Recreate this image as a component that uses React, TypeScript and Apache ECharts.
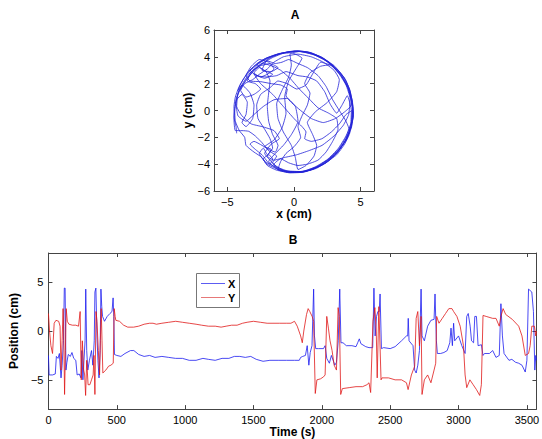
import { useEffect, useRef } from "react";
import * as echarts from "echarts";

// Panel A: 2-D trajectory (x, y) in cm
const trajectoryA: [number, number][] = [
  [-4.3, -1.7], [-4.35, -1.2], [-4.5, -0.5], [-4.5, 0.3], [-4.4, 1.0], [-4.15, 1.7], [-3.75, 2.4], [-3.2, 3.05],
  [-2.5, 3.6], [-1.7, 4.0], [-0.8, 4.3], [0.2, 4.42], [1.2, 4.3], [2.1, 3.9], [2.9, 3.3], [3.55, 2.55],
  [4.05, 1.65], [4.3, 0.7], [4.4, -0.3], [4.25, -1.3], [3.85, -2.3], [3.2, -3.2], [2.4, -3.9], [1.5, -4.35],
  [0.5, -4.6], [-0.5, -4.55], [-1.4, -4.3], [-2.1, -3.95],
  [-2.3, -3.6], [-1.9, -3.3], [-1.6, -3.6], [-1.8, -4.0], [-2.4, -3.3], [-2.9, -2.9], [-3.3, -2.5], [-3.0, -2.3],
  [-2.4, -2.6], [-1.9, -2.9], [-1.4, -3.1], [-1.2, -2.6],
  [-1.6, -1.8], [-1.9, -0.8], [-2.0, 0.3], [-1.9, 1.3], [-1.8, 2.2], [-2.1, 2.9], [-2.6, 3.2], [-3.0, 2.8],
  [-2.5, 2.5], [-2.0, 2.7], [-1.5, 3.1], [-1.9, 3.6], [-2.6, 3.8], [-3.2, 3.3], [-3.6, 2.6],
  [-3.3, 2.2], [-2.5, 2.15], [-1.7, 2.0], [-1.0, 1.9], [-0.5, 1.6], [-0.6, 1.1], [-0.2, 0.6], [0.5, 0.0],
  [1.3, -0.6], [2.2, -0.9], [3.1, -0.6], [3.8, -0.1], [4.3, 0.4], [4.2, 1.5], [3.8, 2.4], [3.2, 3.1],
  [2.4, 3.7], [1.5, 4.15], [0.5, 4.4], [-0.5, 4.35], [-1.4, 4.15], [-2.2, 3.85], [-2.8, 3.45], [-2.3, 3.0],
  [-1.6, 2.7], [-2.2, 2.4], [-3.0, 2.7],
  [-2.5, 2.0], [-1.6, 1.2], [-0.8, 0.3], [0.0, -0.6], [0.6, -1.2], [0.9, -1.6], [0.8, -2.1], [1.3, -2.3],
  [2.1, -2.1], [2.8, -1.6], [3.4, -1.0], [3.9, -0.3], [4.35, 0.0], [4.3, -1.1], [4.0, -2.0], [3.4, -2.9],
  [2.7, -3.6], [1.8, -4.2], [0.8, -4.55], [-0.3, -4.6], [-1.2, -4.4], [-1.6, -3.9], [-1.3, -3.4], [-1.9, -3.0],
  [-2.4, -2.4], [-2.9, -1.9], [-3.4, -1.55], [-3.9, -1.5], [-4.4, -1.5],
  [-4.5, -0.7], [-4.45, 0.0], [-4.3, 0.8], [-3.9, 1.2], [-3.5, 0.6], [-3.6, -0.3], [-3.9, -0.9], [-3.6, -1.2],
  [-3.1, -0.6], [-3.0, 0.4], [-3.3, 1.3], [-3.9, 1.9], [-4.2, 1.5], [-4.0, 2.0], [-3.5, 2.8], [-2.9, 3.4],
  [-2.1, 3.9], [-1.1, 4.25], [0.0, 4.4], [1.0, 4.35], [2.0, 4.0], [2.8, 3.45], [3.5, 2.7], [4.0, 1.8],
  [4.3, 0.8], [4.45, -0.2], [4.3, -1.2], [3.95, -2.1], [3.35, -3.0], [2.6, -3.75], [1.7, -4.3], [0.7, -4.6],
  [-0.3, -4.65], [-1.2, -4.4],
  [-1.0, -3.8], [-0.6, -3.2], [0.0, -2.7], [0.5, -2.0], [0.3, -1.2], [0.6, -0.4], [1.0, 0.4], [1.2, 1.3],
  [0.8, 2.0], [1.2, 2.8], [2.0, 3.3], [2.7, 3.4], [3.4, 2.7], [3.9, 1.9], [4.2, 0.9], [4.1, -0.3],
  [3.7, -1.1], [3.0, -1.9], [2.1, -2.6], [1.1, -3.0], [0.2, -3.3], [-0.7, -3.5], [-1.5, -3.7], [-2.0, -3.4],
  [-1.7, -2.9], [-2.2, -2.7],
  [-1.5, -2.2], [-0.9, -1.3], [-0.6, -0.2], [-0.7, 1.0], [-0.4, 2.2], [0.2, 3.2], [0.6, 3.9], [-0.2, 4.3],
  [-1.2, 4.2], [-2.0, 3.9], [-2.7, 3.5], [-3.3, 3.0], [-2.8, 2.6], [-2.1, 2.5], [-1.3, 2.6], [-0.6, 2.9],
  [0.3, 2.6], [1.0, 2.5], [1.7, 2.2], [2.3, 1.4], [2.7, 0.5], [3.2, -0.2], [3.6, 0.4], [4.0, 1.1],
  [4.3, 0.0], [4.25, -1.0], [3.9, -1.9], [3.3, -2.85], [2.5, -3.65], [1.6, -4.2], [0.6, -4.55], [-0.5, -4.5],
  [-1.3, -4.2], [-1.8, -3.7], [-2.2, -3.2], [-1.7, -2.5], [-1.1, -2.1], [-1.5, -1.5], [-2.4, -1.2], [-3.2, -1.0],
  [-3.9, -0.4], [-4.3, 0.3], [-4.2, 1.3], [-3.8, 2.1], [-3.3, 2.8], [-2.6, 3.3], [-1.8, 3.5], [-1.2, 3.2],
  [-1.7, 2.9], [-2.4, 3.0],
  [-2.0, 3.8], [-1.0, 4.25], [0.1, 4.45], [1.1, 4.35], [2.1, 3.95], [3.0, 3.35], [3.65, 2.6], [4.1, 1.7],
  [4.38, 0.7], [4.45, -0.4], [4.2, -1.4], [3.75, -2.4], [3.1, -3.3], [2.2, -4.0], [1.2, -4.45], [0.2, -4.6],
  [-0.8, -4.45], [-1.5, -4.0], [-1.0, -3.6], [-0.4, -3.9], [0.3, -4.1], [1.0, -4.0],
  [1.8, -3.7], [2.4, -3.1], [2.9, -2.3], [3.3, -1.4], [3.2, -0.6], [2.6, -0.2], [1.8, 0.2], [1.1, 0.9],
  [0.4, 1.6], [-0.3, 2.4], [-1.0, 3.0], [-1.6, 3.3], [-2.3, 3.5], [-2.9, 3.1], [-3.4, 2.5], [-3.9, 1.8],
  [-4.3, 1.0], [-4.45, 0.1], [-4.4, -0.8], [-4.1, -1.5], [-3.7, -2.0], [-3.6, -2.6], [-3.0, -3.1], [-2.4, -3.5],
  [-2.0, -4.1], [-1.3, -4.45], [-0.3, -4.62], [0.8, -4.5], [1.8, -4.15], [2.7, -3.55], [3.4, -2.8], [3.95, -1.9],
  [4.3, -0.9], [4.42, 0.2], [4.25, 1.3], [3.85, 2.3], [3.25, 3.05], [2.45, 3.7], [1.5, 4.15], [0.4, 4.4],
  [-0.3, 4.2], [-0.2, 3.4], [-0.4, 2.5], [-0.9, 1.5], [-1.3, 0.5], [-1.2, -0.6], [-0.8, -1.6], [-0.2, -2.6],
  [0.1, -3.5], [0.3, -4.4],
  [0.9, -4.1], [1.5, -3.4], [1.7, -2.6], [1.4, -1.8], [1.0, -0.9], [1.6, -0.1], [2.5, 0.6], [3.2, 1.4],
  [3.4, 2.3], [3.0, 3.0], [2.2, 3.6], [1.3, 4.0], [0.3, 4.2], [-0.8, 4.0], [-1.5, 3.6], [-2.0, 3.1],
  [-2.6, 2.7], [-3.1, 2.3], [-3.7, 2.0], [-4.0, 1.5], [-3.6, 1.0], [-3.0, 1.2], [-2.5, 1.6], [-2.9, 2.0],
  [-3.5, 2.2], [-3.2, 2.9], [-2.6, 3.4], [-2.0, 3.7], [-1.4, 3.5], [-0.9, 3.6], [-0.4, 3.8], [0.3, 3.5],
  [1.0, 3.2], [1.8, 2.6], [2.4, 1.8], [2.9, 0.8], [3.4, 0.0], [3.9, -0.8], [4.2, -1.6], [3.8, -2.5],
  [3.2, -3.3], [2.3, -3.95], [1.3, -4.4], [0.3, -4.6], [-0.7, -4.5], [-1.5, -4.15], [-2.2, -3.8], [-2.6, -3.2],
  [-2.3, -2.8], [-2.0, -3.3], [-1.6, -2.8], [-1.8, -2.1], [-2.2, -1.4], [-2.7, -0.6], [-2.8, 0.4], [-2.5, 1.2],
  [-1.8, 1.7], [-1.2, 2.2], [-0.5, 2.0], [0.2, 1.6], [0.9, 1.9], [1.5, 2.9], [2.0, 3.6], [2.8, 3.35],
  [3.55, 2.6], [4.05, 1.7], [4.35, 0.7], [4.45, -0.3], [4.3, -1.3], [3.9, -2.2], [3.3, -3.0], [2.5, -3.7],
  [1.6, -4.25], [0.6, -4.6], [-0.4, -4.6], [-1.3, -4.35], [-1.9, -3.8], [-1.4, -3.2], [-0.8, -2.6], [-0.2, -1.8],
  [0.3, -0.8], [0.1, 0.3], [-0.5, 0.9], [-1.5, 0.8], [-2.3, 0.3], [-3.0, -0.3], [-3.6, -0.8], [-4.2, -0.4],
  [-4.35, 0.6], [-4.1, 1.5], [-3.6, 2.3], [-3.0, 3.0], [-2.3, 3.55], [-1.6, 3.95], [-0.7, 4.3], [0.3, 4.45],
  [1.3, 4.3], [2.2, 3.9], [3.0, 3.3],
];

// Panel B: position vs time, [time (s), position (cm)]
const xPosition: [number, number][] = [
  [0, -2.5], [5, -4.5], [30, -4.5], [50, -4.4], [58, -2.6], [70, -2.8], [80, -2.3], [92, -4.8], [100, -3.5],
  [110, -1.0], [116, 4.4], [122, 4.4], [128, -4.0], [135, -3.2], [145, -2.4], [160, -2.6], [172, -2.2],
  [185, -2.8], [200, -3.0], [210, -4.5], [225, -4.4], [238, -4.8], [245, -2.0], [252, -5.0], [260, -3.0],
  [268, -1.0], [273, 4.3], [280, -2.0], [288, -4.0], [300, -3.0], [315, -2.0], [325, -3.5], [335, -1.0],
  [340, 4.0], [347, 4.4], [355, -0.5], [362, -3.0], [370, -4.8], [378, -2.0], [384, 4.3], [390, 2.5],
  [396, 1.5], [410, 1.0], [430, 1.5], [450, 1.8], [465, 2.0], [473, 3.4], [478, 1.5], [483, -2.4],
  [500, -2.5], [530, -2.6], [560, -2.3], [600, -2.0], [625, -2.0], [660, -2.4], [700, -2.6], [740, -2.5],
  [780, -2.7], [830, -2.6], [880, -2.7], [930, -2.8], [980, -2.8], [1030, -3.0], [1080, -3.0], [1130, -2.8],
  [1170, -2.9], [1220, -3.0], [1270, -2.8], [1320, -2.8], [1360, -2.6], [1400, -2.6], [1440, -2.7],
  [1480, -2.6], [1520, -2.9], [1570, -3.1], [1620, -3.0], [1680, -3.0], [1740, -3.0], [1800, -3.0],
  [1835, -3.0], [1845, -2.7], [1860, -2.6], [1880, -2.5], [1893, -1.5], [1905, -3.5], [1915, -2.2],
  [1928, -1.5], [1940, 4.3], [1946, -0.5], [1955, -1.8], [1976, -1.8], [2012, -1.8], [2024, -1.5],
  [2036, -2.8], [2055, -3.3], [2070, -2.5], [2095, -3.5], [2107, -3.2], [2120, -1.0], [2131, 4.3],
  [2140, -1.2], [2155, -1.2], [2179, -1.5], [2220, -1.5], [2250, -1.6], [2262, -1.2], [2274, -0.8],
  [2286, -1.3], [2321, -1.6], [2345, -1.7], [2372, -1.7], [2381, 4.4], [2390, -0.5], [2400, 1.5],
  [2410, 2.0], [2420, 2.0], [2426, 3.8], [2436, -1.8], [2452, -1.7], [2500, -1.8], [2536, -1.6],
  [2583, -1.0], [2619, -0.5], [2628, -0.5], [2632, 1.3], [2638, -1.0], [2667, -1.5], [2679, -4.0],
  [2690, -4.3], [2702, -3.5], [2714, -2.0], [2726, 4.3], [2733, -0.5], [2750, -1.0], [2774, 0.5],
  [2798, 1.1], [2821, 1.2], [2828, 3.8], [2838, -1.0], [2845, -2.3], [2869, -2.3], [2893, -2.2],
  [2917, -2.0], [2936, -1.2], [2945, 0.3], [2955, -1.5], [2964, 0.8], [2972, -1.0], [3000, -0.5],
  [3024, -1.5], [3048, -2.3], [3060, 1.5], [3071, 1.8], [3085, 0.5], [3095, -1.0], [3110, -1.2],
  [3119, 1.5], [3131, 1.5], [3143, -1.5], [3167, -1.4], [3179, -2.5], [3190, -2.3], [3226, -2.3],
  [3250, -2.0], [3274, -2.7], [3298, -2.5], [3310, 2.8], [3321, -0.5], [3333, -2.3], [3369, -3.0],
  [3390, -2.9], [3417, -3.2], [3440, -3.3], [3464, -3.5], [3488, -4.2], [3500, -3.0], [3512, 4.3],
  [3536, 4.0], [3548, 2.0], [3558, -4.0], [3565, -2.5], [3570, -3.0],
];

const yPosition: [number, number][] = [
  [0, 1.8], [8, 0.0], [18, -1.5], [30, -2.3], [42, 0.8], [55, 1.1], [75, 1.0], [85, 0.5], [92, -4.0],
  [100, -1.0], [107, 2.3], [112, 0.0], [118, -6.5], [124, -2.0], [130, 2.3], [138, 1.0], [150, 0.7],
  [175, 0.6], [200, 0.6], [220, 0.5], [232, 2.0], [240, -5.0], [248, -1.0], [258, -4.0], [265, -4.5],
  [272, -6.6], [280, -3.0], [290, -5.5], [303, -5.5], [315, -5.0], [327, -4.5], [333, -2.5], [340, -6.5],
  [348, 2.0], [355, 1.0], [365, -2.0], [374, -4.5], [380, -1.0], [386, 2.3], [392, -1.0], [398, -4.3],
  [420, -4.0], [440, -3.6], [457, -3.5], [474, -3.3], [481, 2.3], [488, 1.5], [493, 1.1], [520, 1.0],
  [550, 0.6], [580, 0.4], [623, 0.4], [660, 0.5], [700, 0.7], [740, 0.8], [765, 0.8], [790, 0.7],
  [830, 0.8], [880, 0.9], [931, 1.0], [980, 0.9], [1030, 0.8], [1080, 0.7], [1121, 0.6], [1170, 0.5],
  [1220, 0.5], [1263, 0.4], [1300, 0.5], [1340, 0.6], [1380, 0.6], [1420, 0.8], [1453, 0.9], [1500, 1.0],
  [1550, 0.9], [1600, 0.8], [1650, 0.8], [1690, 0.8], [1740, 0.8], [1774, 0.8], [1800, 1.0], [1820, 0.5],
  [1845, -0.5], [1857, -1.2], [1868, 0.0], [1888, 1.7], [1900, 2.3], [1912, 2.0], [1929, 1.5], [1940, 1.0],
  [1952, -6.4], [1964, -5.0], [1990, -4.9], [2012, -4.7], [2024, -4.5], [2036, 1.5], [2048, 0.3],
  [2060, -1.0], [2075, -2.0], [2090, -3.5], [2107, -4.0], [2119, 2.4], [2128, 1.5], [2138, -6.5],
  [2150, -5.9], [2200, -5.8], [2250, -5.7], [2298, -5.7], [2330, -5.5], [2345, -5.3], [2357, -6.3],
  [2374, 1.0], [2388, 2.4], [2398, 0.0], [2405, -4.8], [2417, 2.5], [2433, -5.0], [2440, -4.8],
  [2488, -4.8], [2536, -5.0], [2583, -5.0], [2619, -5.3], [2631, -6.0], [2655, -4.5], [2679, -3.6],
  [2690, 1.3], [2702, 2.0], [2714, -1.5], [2726, 1.5], [2733, -6.5], [2750, -5.0], [2774, -4.5],
  [2798, -5.3], [2821, -4.0], [2833, -3.3], [2840, 1.5], [2857, 0.8], [2881, 1.3], [2905, 1.8],
  [2929, 2.3], [2952, 2.3], [2964, 2.0], [2988, 1.5], [3012, 0.5], [3036, -1.5], [3048, -4.5],
  [3060, -5.8], [3083, -5.0], [3107, -5.5], [3131, -6.0], [3155, -6.6], [3167, -5.5], [3179, 1.6],
  [3202, 1.5], [3250, 1.3], [3274, 1.3], [3298, 0.5], [3310, 1.5], [3326, 2.3], [3345, 1.7],
  [3393, 1.2], [3440, 0.5], [3464, -0.5], [3488, -2.5], [3512, -2.3], [3524, -1.5], [3536, 0.5],
  [3555, 0.5], [3565, -0.5], [3570, 0.0],
];

const ticksA = [-5, 0, 5];
const timeTicks = [0, 500, 1000, 1500, 2000, 2500, 3000, 3500];
const positionTicks = [-5, 0, 5];
const legendNames = ["X", "Y"];

const FONT = "Liberation Sans, Arial, Helvetica, sans-serif";
const AXIS_COLOR = "#444";
const TRACK = "#2323d8";
const BLUE = "#1c1cf0";
const RED = "#e01818";
const LEGEND_BLUE = "#5c5cf2";
const LEGEND_RED = "#e67878";

const minus = (v: number) => String(v).replace("-", "\u2212");
const plain = (v: number) => String(v);

function App() {
  const ref = useRef<HTMLDivElement>(null);

  useEffect(() => {
    if (!ref.current) return;
    const chart = echarts.init(ref.current, undefined, { renderer: "svg" });

    const labelStyle = { color: "#000", fontSize: 11, fontFamily: FONT };
    const nameStyle = { color: "#000", fontSize: 12, fontWeight: "bold" as const, fontFamily: FONT };
    const line = { show: true, onZero: false, lineStyle: { color: AXIS_COLOR, width: 1 } };
    const tick = (vals?: number[]) => ({
      show: true,
      inside: true,
      length: 4,
      lineStyle: { color: AXIS_COLOR, width: 1 },
      ...(vals ? { customValues: vals } : {}),
    });

    const legendSwatch = (id: string, color: string, y: number) => ({
      type: "rect",
      id,
      shape: { x: 5, y, width: 24, height: 1 },
      style: { fill: color, stroke: "none" },
    });
    const legendText = (id: string, text: string, y: number) => ({
      type: "text",
      id,
      x: 32,
      y,
      style: {
        text,
        fill: "#000",
        font: `bold 11px ${FONT}`,
        verticalAlign: "middle",
        align: "left",
      },
    });

    const option: any = {
      animation: false,
      backgroundColor: "#fff",
      title: [
        { text: "A", left: 295, top: 9, textAlign: "center", padding: 0, textStyle: { ...nameStyle } },
        { text: "B", left: 293, top: 234, textAlign: "center", padding: 0, textStyle: { ...nameStyle } },
      ],
      graphic: [
        {
          type: "group",
          id: "legendBox",
          x: 196,
          y: 273,
          z: 100,
          children: [
            {
              type: "rect",
              id: "legendFrame",
              shape: { x: 0.5, y: 0.5, width: 43, height: 34 },
              style: { fill: "#fff", stroke: "#777", lineWidth: 1 },
            },
            legendSwatch("swatchX", LEGEND_BLUE, 10),
            legendText("textX", legendNames[0], 10.5),
            legendSwatch("swatchY", LEGEND_RED, 24),
            legendText("textY", legendNames[1], 24.5),
          ],
        },
      ],
      grid: [
        { left: 214, top: 30, width: 160, height: 161 },
        { left: 42, top: 253, width: 499, height: 160 },
      ],
      xAxis: [
        {
          gridIndex: 0, type: "value", min: -6, max: 6, position: "bottom",
          axisLine: line, axisTick: tick(ticksA), splitLine: { show: false },
          axisLabel: { ...labelStyle, customValues: ticksA, formatter: minus, margin: 5 },
          name: "x (cm)", nameLocation: "middle", nameGap: 15, nameTextStyle: nameStyle,
        },
        {
          gridIndex: 0, type: "value", min: -6, max: 6, position: "top",
          axisLine: line, axisTick: tick(ticksA), splitLine: { show: false },
          axisLabel: { show: false, customValues: ticksA },
        },
        {
          gridIndex: 1, type: "value", min: 0, max: 3570, position: "bottom",
          axisLine: line, axisTick: tick(timeTicks), splitLine: { show: false },
          axisLabel: { ...labelStyle, customValues: timeTicks, formatter: plain, margin: 5 },
          name: "Time (s)", nameLocation: "middle", nameGap: 14, nameTextStyle: nameStyle,
        },
        {
          gridIndex: 1, type: "value", min: 0, max: 3570, position: "top",
          axisLine: line, axisTick: tick(timeTicks), splitLine: { show: false },
          axisLabel: { show: false, customValues: timeTicks },
        },
      ],
      yAxis: [
        {
          gridIndex: 0, type: "value", min: -6, max: 6, interval: 2, position: "left",
          axisLine: line, axisTick: tick(), splitLine: { show: false },
          axisLabel: { ...labelStyle, formatter: minus, margin: 4 },
          name: "y (cm)", nameLocation: "middle", nameGap: 14, nameRotate: 90, nameTextStyle: nameStyle,
        },
        {
          gridIndex: 0, type: "value", min: -6, max: 6, interval: 2, position: "right",
          axisLine: line, axisTick: tick(), splitLine: { show: false }, axisLabel: { show: false },
        },
        {
          gridIndex: 1, type: "value", min: -8, max: 8, position: "left",
          axisLine: line, axisTick: tick(positionTicks), splitLine: { show: false },
          axisLabel: { ...labelStyle, customValues: positionTicks, formatter: minus, margin: 5 },
          name: "Position (cm)", nameLocation: "middle", nameGap: 13, nameRotate: 90, nameTextStyle: nameStyle,
        },
        {
          gridIndex: 1, type: "value", min: -8, max: 8, position: "right",
          axisLine: line, axisTick: tick(positionTicks), splitLine: { show: false },
          axisLabel: { show: false, customValues: positionTicks },
        },
      ],
      series: [
        {
          type: "line", xAxisIndex: 0, yAxisIndex: 0, data: trajectoryA,
          symbol: "none", showSymbol: false, smooth: 0.15, silent: true,
          lineStyle: { color: TRACK, width: 0.8 }, itemStyle: { color: TRACK },
        },
        {
          name: legendNames[0], type: "line", xAxisIndex: 2, yAxisIndex: 2, data: xPosition,
          symbol: "none", showSymbol: false, silent: true,
          lineStyle: { color: BLUE, width: 0.8 }, itemStyle: { color: BLUE },
        },
        {
          name: legendNames[1], type: "line", xAxisIndex: 2, yAxisIndex: 2, data: yPosition,
          symbol: "none", showSymbol: false, silent: true,
          lineStyle: { color: RED, width: 0.8 }, itemStyle: { color: RED },
        },
      ],
    };

    chart.setOption(option);
    return () => chart.dispose();
  }, []);

  return (
    <div
      ref={ref}
      style={{ position: "fixed", left: 0, top: 0, width: 542, height: 439, background: "#fff" }}
    />
  );
}

export default App;
